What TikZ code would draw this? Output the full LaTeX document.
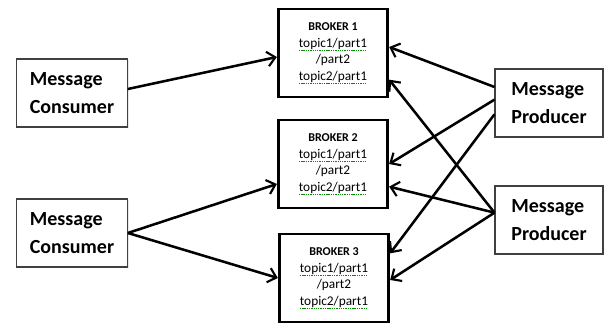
\documentclass[tikz,border=0pt]{standalone}
\usepackage{fontspec}
\setmainfont{Carlito}
\usetikzlibrary{arrows.meta,shadows}

\newcommand\spellmark[1]{\setbox0\hbox{#1}\rlap{\color{green!55!black}\raisebox{-2.3pt}{\hbox to \wd0{\xleaders\hbox{\rule{1pt}{0.5pt}\hspace{0.7pt}}\hfill}}}\box0}

\tikzset{
	broker/.style={draw, line width=2.2pt, minimum width=82pt, minimum height=66pt,
		align=center, font=\fontsize{10}{12.4}\selectfont, inner sep=0pt},
	client/.style={draw=black!75, line width=0.8pt, fill=white, minimum width=83pt, minimum height=51pt,
		align=left, font=\fontsize{15}{21.5}\selectfont\bfseries,
		drop shadow={opacity=0.2, shadow xshift=1pt, shadow yshift=-1pt}},
}

\begin{document}
\begin{tikzpicture}[x=0.75pt, y=-0.75pt, line width=1.9pt, arrows={-Straight Barb[length=6pt, width=11pt, line width=1.6pt]}]
	\useasboundingbox (0,0) rectangle (606,327);

	\node [broker] (B1) at (333,53) {{\bfseries\fontsize{9}{12.4}\selectfont BROKER 1}\\\spellmark{topic1/part1}\\/part2\\\spellmark{topic2/part1}};
	\node [broker] (B2) at (333,164) {{\bfseries\fontsize{9}{12.4}\selectfont BROKER 2}\\\spellmark{topic1/part1}\\/part2\\\spellmark{topic2/part1}};
	\node [broker] (B3) at (334,278) {{\bfseries\fontsize{9}{12.4}\selectfont BROKER 3}\\\spellmark{topic1/part1}\\/part2\\\spellmark{topic2/part1}};

	\node [client] (C1) at (72,93) {Message\\Consumer};
	\node [client] (C2) at (72,233) {Message\\Consumer};
	\node [client, minimum width=81pt] (P1) at (549,103) {Message\\Producer};
	\node [client, minimum width=81pt] (P2) at (549,220) {Message\\Producer};

	% consumers
	\draw ([yshift=3pt]C1.east) to ([yshift=-3pt]B1.west);
	\draw (C2.east) to ([yshift=-15pt]B2.west);
	\draw (C2.east) to (B3.west);

	% producers
	\draw ([yshift=12pt]P1.west) to ([yshift=4.5pt]B1.east);
	\draw ([yshift=2.5pt]P1.west) to (B2.east);
	\draw ([yshift=-8.5pt]P1.west) to ([yshift=18.5pt]B3.east);
	\draw ([yshift=5.5pt]P2.west) to ([yshift=-20pt]B1.east);
	\draw ([yshift=5.5pt]P2.west) to ([yshift=-17pt]B2.east);
	\draw ([yshift=5.5pt]P2.west) to ([yshift=-1.5pt]B3.east);
\end{tikzpicture}
\end{document}
